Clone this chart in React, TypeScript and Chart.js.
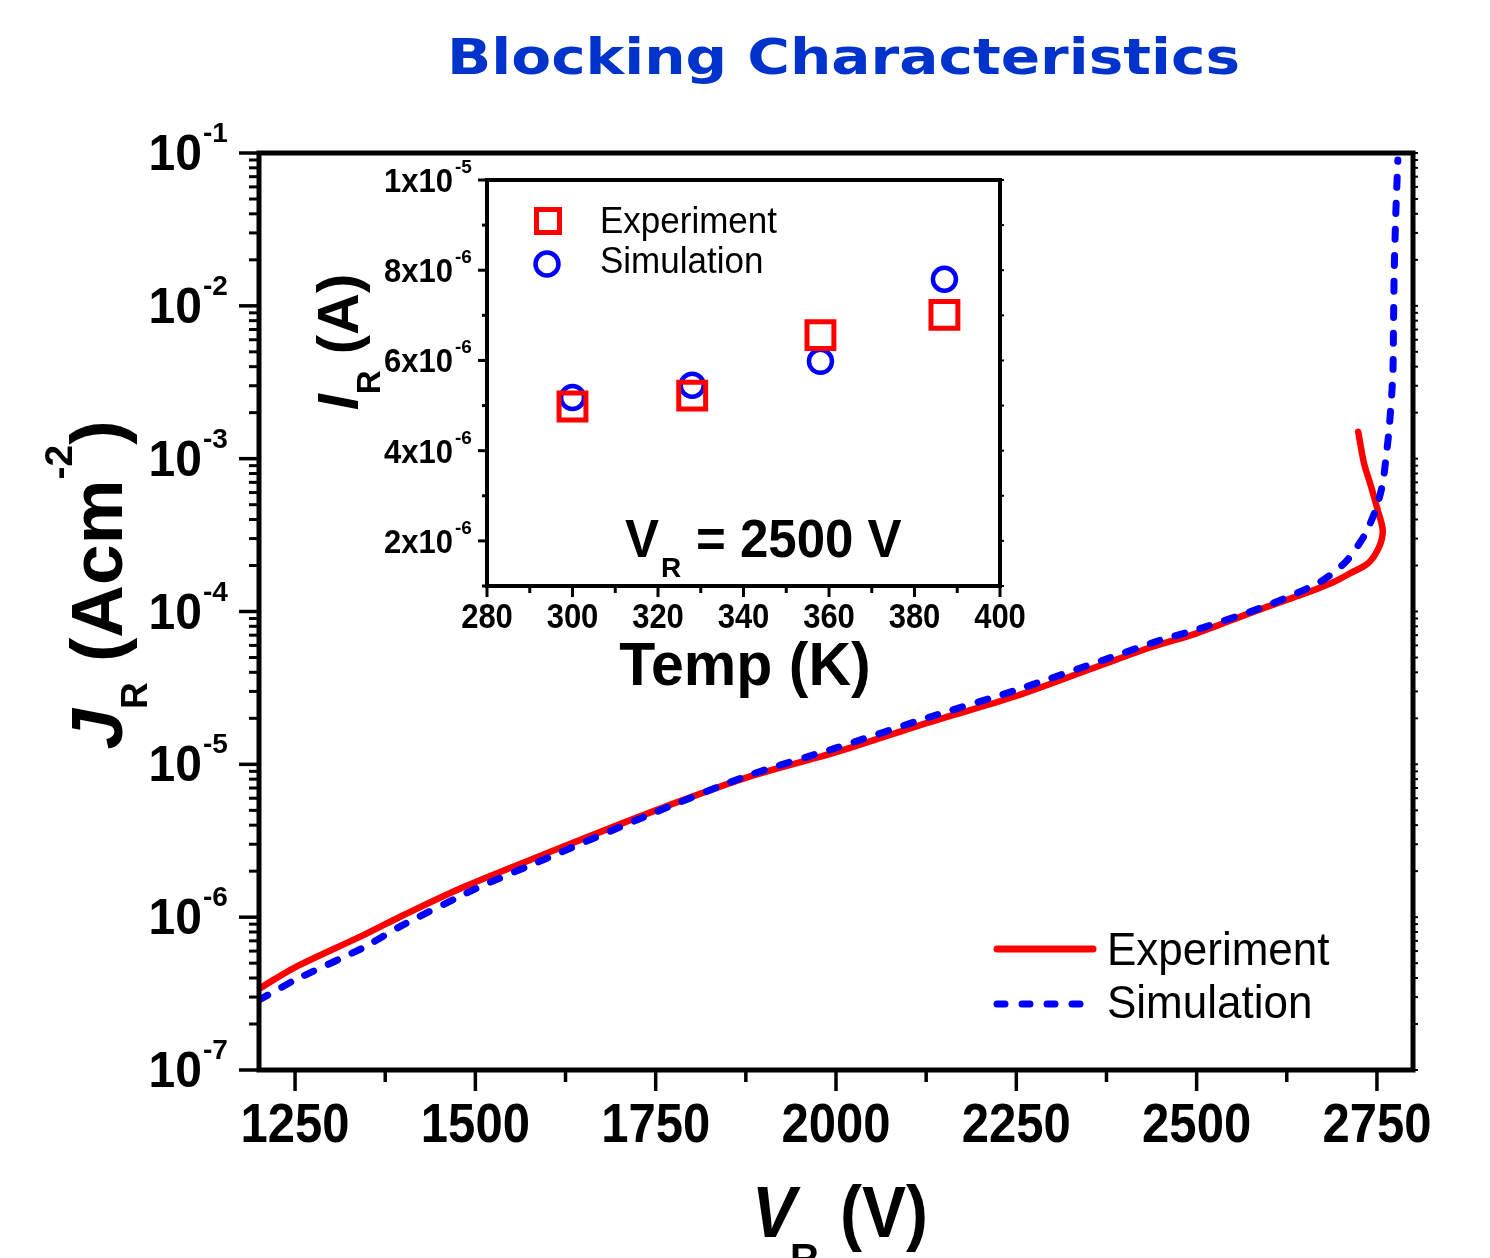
import React, { useEffect, useRef } from 'react';
import { Chart, registerables } from 'chart.js';

Chart.register(...registerables);

// ---------------- data ----------------
const expV = [1200, 1250, 1344, 1400, 1483, 1600, 1750, 1880, 2000, 2130, 2250, 2370, 2440, 2500, 2575, 2620, 2650, 2690, 2714, 2738, 2753, 2758, 2751, 2742, 2732, 2724];
const expJ = [3.4e-7, 4.7e-7, 7.6e-7, 1.03e-6, 1.57e-6, 2.63e-6, 5.0e-6, 8.3e-6, 1.2e-5, 1.89e-5, 2.8e-5, 4.5e-5, 5.9e-5, 7.2e-5, 9.8e-5, 1.17e-4, 1.31e-4, 1.56e-4, 1.79e-4, 2.07e-4, 2.64e-4, 3.41e-4, 4.61e-4, 6.53e-4, 9.38e-4, 1.5e-3];

const simV = [1200, 1250, 1344, 1396, 1500, 1600, 1750, 1880, 2000, 2130, 2250, 2370, 2450, 2500, 2599, 2672, 2707, 2733, 2749, 2758, 2763, 2767, 2772, 2773, 2774, 2776, 2779];
const simJ = [2.87e-7, 3.88e-7, 6.3e-7, 8.7e-7, 1.53e-6, 2.44e-6, 4.87e-6, 8.5e-6, 1.28e-5, 2.04e-5, 3.06e-5, 4.8e-5, 6.5e-5, 7.6e-5, 1.1e-4, 1.57e-4, 2.12e-4, 3.17e-4, 4.73e-4, 6.9e-4, 1.06e-3, 1.58e-3, 3.5e-3, 7.9e-3, 1.72e-2, 3.83e-2, 9.0e-2];

const xTickValues = [1250, 1500, 1750, 2000, 2250, 2500, 2750];
const xMinorValues = [1375, 1625, 1875, 2125, 2375, 2625];
const yDecades = [-7, -6, -5, -4, -3, -2, -1];

const insetTemp = [300, 328, 358, 387];
const insetExp = [4.98e-6, 5.22e-6, 6.56e-6, 7.01e-6];
const insetSim = [5.18e-6, 5.45e-6, 5.98e-6, 7.8e-6];
const insetXTicks = [280, 300, 320, 340, 360, 380, 400];
const insetXMinor = [290, 310, 330, 350, 370, 390];
const insetYTicks = [2e-6, 4e-6, 6e-6, 8e-6, 1e-5];
const insetYMant = ['2x10', '4x10', '6x10', '8x10', '1x10'];
const insetYExp = ['-6', '-6', '-6', '-6', '-5'];
const insetYMinor = [1e-6, 3e-6, 5e-6, 7e-6, 9e-6];

const SANS = '"Liberation Sans", Arial, sans-serif';

type Run = { t: string; size: number; weight?: string; italic?: boolean; dy?: number; family?: string; sy?: number };

function fontOf(r: Run) {
  return `${r.italic ? 'italic ' : ''}${r.weight ?? 'bold'} ${r.size}px ${r.family ?? SANS}`;
}

function drawRuns(ctx: CanvasRenderingContext2D, runs: Run[], x: number, y: number, align: 'left' | 'center' | 'right' = 'left', color = '#000', sx = 1) {
  ctx.save();
  ctx.fillStyle = color;
  ctx.textBaseline = 'alphabetic';
  ctx.textAlign = 'left';
  const widths = runs.map((r) => {
    ctx.font = fontOf(r);
    return ctx.measureText(r.t).width * sx;
  });
  const total = widths.reduce((a, b) => a + b, 0);
  let cx = align === 'left' ? x : align === 'center' ? x - total / 2 : x - total;
  runs.forEach((r, i) => {
    ctx.font = fontOf(r);
    ctx.save();
    ctx.translate(cx, y + (r.dy ?? 0));
    ctx.scale(sx, r.sy ?? 1);
    ctx.fillText(r.t, 0, 0);
    ctx.restore();
    cx += widths[i];
  });
  ctx.restore();
}

function line(ctx: CanvasRenderingContext2D, x1: number, y1: number, x2: number, y2: number) {
  ctx.beginPath();
  ctx.moveTo(x1, y1);
  ctx.lineTo(x2, y2);
  ctx.stroke();
}

const mainPlugin = {
  id: 'mainDecor',
  afterDraw(chart: any) {
    const ctx: CanvasRenderingContext2D = chart.ctx;
    const a = chart.chartArea;
    const xs = chart.scales.x;
    const ys = chart.scales.y;
    ctx.save();
    ctx.strokeStyle = '#000';
    ctx.lineCap = 'butt';

    // x ticks
    ctx.lineWidth = 3.5;
    xTickValues.forEach((v) => { const px = xs.getPixelForValue(v); line(ctx, px, a.bottom, px, a.bottom + 21); });
    xMinorValues.forEach((v) => { const px = xs.getPixelForValue(v); line(ctx, px, a.bottom, px, a.bottom + 12); });

    // y ticks
    yDecades.forEach((e) => {
      const py = ys.getPixelForValue(Math.pow(10, e));
      ctx.lineWidth = 3.5;
      line(ctx, a.left - 20, py, a.left, py);
      ctx.lineWidth = 2;
      line(ctx, a.right, py, a.right + 5, py);
      if (e < -1) {
        for (let k = 2; k <= 9; k++) {
          const pm = ys.getPixelForValue(k * Math.pow(10, e));
          ctx.lineWidth = 3;
          line(ctx, a.left - 10, pm, a.left, pm);
          ctx.lineWidth = 2;
          line(ctx, a.right, pm, a.right + 5, pm);
        }
      }
    });

    // frame
    ctx.lineWidth = 5;
    ctx.strokeRect(a.left, a.top, a.right - a.left, a.bottom - a.top);

    // x tick labels
    xTickValues.forEach((v) => {
      drawRuns(ctx, [{ t: String(v), size: 49, sy: 1.12 }], xs.getPixelForValue(v), a.bottom + 72, 'center');
    });
    // y tick labels
    yDecades.forEach((e) => {
      const py = ys.getPixelForValue(Math.pow(10, e));
      drawRuns(ctx, [{ t: '10', size: 48, sy: 1.04 }], 202, py + 17, 'right');
      drawRuns(ctx, [{ t: String(e), size: 28 }], 203, py - 11, 'left');
    });

    // title
    ctx.save();
    ctx.font = `bold 50px "DejaVu Sans", Verdana, sans-serif`;
    const tw = ctx.measureText('Blocking Characteristics').width;
    ctx.restore();
    drawRuns(ctx, [{ t: 'Blocking Characteristics', size: 50, family: '"DejaVu Sans", Verdana, sans-serif' }], 843.5, 74, 'center', '#0033cc', 793 / tw);

    // x title
    drawRuns(ctx, [{ t: 'V', size: 66, italic: true, sy: 1.1 }], 752, 1237, 'left');
    drawRuns(ctx, [{ t: 'R', size: 40 }], 790, 1272, 'left');
    drawRuns(ctx, [{ t: '(V)', size: 66, sy: 1.1 }], 840, 1237, 'left');

    // y title (rotated)
    ctx.save();
    ctx.translate(122, 585);
    ctx.rotate(-Math.PI / 2);
    drawRuns(ctx, [
      { t: 'J', size: 73, italic: true },
      { t: 'R', size: 37, dy: 25 },
      { t: ' (Acm', size: 73 },
      { t: '-2', size: 39, dy: -50 },
      { t: ')', size: 73 },
    ], 0, 0, 'center');
    ctx.restore();

    // legend
    ctx.lineCap = 'round';
    ctx.lineWidth = 7;
    ctx.strokeStyle = '#ff0000';
    line(ctx, 997, 949, 1093, 949);
    ctx.strokeStyle = '#0000ff';
    ctx.setLineDash([8, 17]);
    line(ctx, 997, 1004, 1082, 1004);
    ctx.setLineDash([]);
    drawRuns(ctx, [{ t: 'Experiment', size: 44, weight: 'normal', sy: 1.05 }], 1107, 965, 'left');
    drawRuns(ctx, [{ t: 'Simulation', size: 44, weight: 'normal', sy: 1.05 }], 1107, 1018, 'left');

    ctx.restore();
  },
};

const insetPlugin = {
  id: 'insetDecor',
  afterDraw(chart: any) {
    const ctx: CanvasRenderingContext2D = chart.ctx;
    const a = chart.chartArea;
    const xs = chart.scales.x;
    const ys = chart.scales.y;
    ctx.save();
    ctx.strokeStyle = '#000';

    // ticks
    ctx.lineWidth = 3;
    insetYTicks.forEach((v) => { const py = ys.getPixelForValue(v); line(ctx, a.left - 9, py, a.left, py); });
    insetYMinor.forEach((v) => { const py = ys.getPixelForValue(v); line(ctx, a.left - 5, py, a.left, py); });
    insetXTicks.forEach((v) => { const px = xs.getPixelForValue(v); line(ctx, px, a.bottom, px, a.bottom + 11); });
    insetXMinor.forEach((v) => { const px = xs.getPixelForValue(v); line(ctx, px, a.bottom, px, a.bottom + 7); });
    ctx.lineWidth = 2;
    [...insetYTicks, ...insetYMinor].forEach((v) => { const py = ys.getPixelForValue(v); line(ctx, a.right, py, a.right + 4, py); });

    // frame
    ctx.lineWidth = 4;
    ctx.strokeRect(a.left, a.top, a.right - a.left, a.bottom - a.top);

    // tick labels
    insetYTicks.forEach((v, i) => {
      const py = ys.getPixelForValue(v);
      drawRuns(ctx, [{ t: insetYMant[i], size: 31, sy: 1.1 }], a.left - 34, py + 12, 'right');
      drawRuns(ctx, [{ t: insetYExp[i], size: 19 }], a.left - 32, py - 7, 'left');
    });
    insetXTicks.forEach((v) => {
      drawRuns(ctx, [{ t: String(v), size: 31, sy: 1.14 }], xs.getPixelForValue(v), a.bottom + 42, 'center');
    });

    // axis titles
    drawRuns(ctx, [{ t: 'Temp (K)', size: 59, sy: 1.04 }], 455, 525, 'center');
    ctx.save();
    ctx.translate(68, 182);
    ctx.rotate(-Math.PI / 2);
    drawRuns(ctx, [
      { t: 'I', size: 58, italic: true },
      { t: 'R', size: 33, dy: 22 },
      { t: ' (A)', size: 58 },
    ], 0, 0, 'center');
    ctx.restore();

    // annotation
    drawRuns(ctx, [{ t: 'V', size: 51, sy: 1.06 }], 335, 397, 'left');
    drawRuns(ctx, [{ t: 'R', size: 28 }], 371, 417, 'left');
    drawRuns(ctx, [{ t: '= 2500 V', size: 51, sy: 1.06 }], 406, 397, 'left');

    // legend
    ctx.strokeStyle = '#ff0000';
    ctx.lineWidth = 5;
    ctx.strokeRect(258 - 11.5, 61 - 11.5, 23, 23);
    ctx.strokeStyle = '#0000ff';
    ctx.lineWidth = 4.5;
    ctx.beginPath();
    ctx.arc(257, 104, 11.5, 0, Math.PI * 2);
    ctx.stroke();
    drawRuns(ctx, [{ t: 'Experiment', size: 35, weight: 'normal', sy: 1.04 }], 310, 73, 'left');
    drawRuns(ctx, [{ t: 'Simulation', size: 35, weight: 'normal', sy: 1.04 }], 310, 113, 'left');

    ctx.restore();
  },
};

export default function App() {
  const mainRef = useRef<HTMLCanvasElement>(null);
  const insetRef = useRef<HTMLCanvasElement>(null);

  useEffect(() => {
    const main = new Chart(mainRef.current as HTMLCanvasElement, {
      type: 'scatter',
      data: {
        datasets: [
          {
            label: 'Experiment',
            data: expV.map((v, i) => ({ x: v, y: expJ[i] })),
            showLine: true,
            borderColor: '#ff0000',
            backgroundColor: '#ff0000',
            borderWidth: 6.5,
            pointRadius: 0,
            tension: 0.3,
            borderCapStyle: 'round',
            borderJoinStyle: 'round',
            fill: false,
            order: 2,
          },
          {
            label: 'Simulation',
            data: simV.map((v, i) => ({ x: v, y: simJ[i] })),
            showLine: true,
            borderColor: '#0000ff',
            backgroundColor: '#0000ff',
            borderWidth: 7,
            borderDash: [10, 16],
            pointRadius: 0,
            tension: 0.25,
            borderCapStyle: 'round',
            borderJoinStyle: 'round',
            fill: false,
            order: 1,
          },
        ],
      } as any,
      options: {
        responsive: false,
        animation: false,
        devicePixelRatio: 1,
        events: [],
        layout: { padding: { left: 259, right: 77, top: 153, bottom: 188 }, autoPadding: false },
        plugins: { legend: { display: false }, tooltip: { enabled: false }, title: { display: false } },
        scales: {
          x: {
            type: 'linear', min: 1200, max: 2800,
            ticks: { display: false }, grid: { display: false }, border: { display: false },
            afterFit: (s: any) => { s.height = 0; },
          },
          y: {
            type: 'logarithmic', min: 1e-7, max: 1e-1,
            ticks: { display: false }, grid: { display: false }, border: { display: false },
            afterFit: (s: any) => { s.width = 0; },
          },
        },
      } as any,
      plugins: [mainPlugin],
    });

    const inset = new Chart(insetRef.current as HTMLCanvasElement, {
      type: 'scatter',
      data: {
        datasets: [
          {
            label: 'Experiment',
            data: insetTemp.map((t, i) => ({ x: t, y: insetExp[i] })),
            pointStyle: 'rect',
            pointRadius: 19,
            borderWidth: 5,
            borderColor: '#ff0000',
            backgroundColor: 'rgba(0,0,0,0)',
          },
          {
            label: 'Simulation',
            data: insetTemp.map((t, i) => ({ x: t, y: insetSim[i] })),
            pointStyle: 'circle',
            pointRadius: 11.5,
            borderWidth: 4.5,
            borderColor: '#0000ff',
            backgroundColor: 'rgba(0,0,0,0)',
          },
        ],
      } as any,
      options: {
        responsive: false,
        animation: false,
        devicePixelRatio: 1,
        events: [],
        clip: false,
        layout: { padding: { left: 197, right: 60, top: 20, bottom: 119 }, autoPadding: false },
        plugins: { legend: { display: false }, tooltip: { enabled: false }, title: { display: false } },
        scales: {
          x: {
            type: 'linear', min: 280, max: 400,
            ticks: { display: false }, grid: { display: false }, border: { display: false },
            afterFit: (s: any) => { s.height = 0; },
          },
          y: {
            type: 'linear', min: 1e-6, max: 1e-5,
            ticks: { display: false }, grid: { display: false }, border: { display: false },
            afterFit: (s: any) => { s.width = 0; },
          },
        },
      } as any,
      plugins: [insetPlugin],
    });

    return () => {
      main.destroy();
      inset.destroy();
    };
  }, []);

  return (
    <div style={{ position: 'absolute', left: 0, top: 0, width: 1490, height: 1258, background: '#fff', overflow: 'hidden' }}>
      <canvas ref={mainRef} width={1490} height={1258} style={{ position: 'absolute', left: 0, top: 0, width: 1490, height: 1258 }} />
      <canvas ref={insetRef} width={770} height={545} style={{ position: 'absolute', left: 290, top: 160, width: 770, height: 545 }} />
    </div>
  );
}
